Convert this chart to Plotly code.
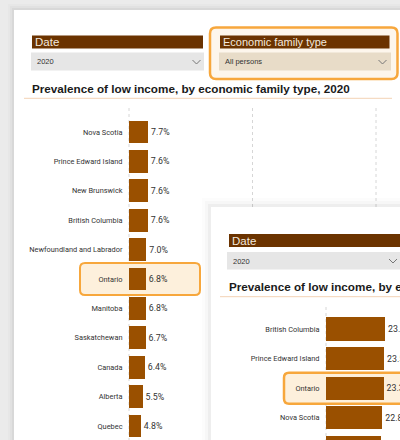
import plotly.graph_objects as go

# ---------------- data ----------------
regions_1 = ["Nova Scotia", "Prince Edward Island", "New Brunswick", "British Columbia",
             "Newfoundland and Labrador", "Ontario", "Manitoba", "Saskatchewan",
             "Canada", "Alberta", "Quebec"]
values_1 = [7.7, 7.6, 7.6, 7.6, 7.0, 6.8, 6.8, 6.7, 6.4, 5.5, 4.8]

regions_2 = ["British Columbia", "Prince Edward Island", "Ontario", "Nova Scotia", "New Brunswick"]
values_2 = [23.9, 23.5, 23.3, 22.8, 22.3]

grid_ticks = [0, 0.5, 1.0]
title_text = "Prevalence of low income, by economic family type, 2020"
date_value = "2020"
family_value = "All persons"
highlight = "Ontario"

# ---------------- geometry helpers (pixel -> axis coords) ----------------
W, H = 400, 440
P1 = dict(left=14, top=10)
P2 = dict(left=211, top=207)
ZERO1, ZERO2 = 129, 326        # pixel x of value 0
UNIT = 247.0                   # pixels per 1.0 (100 %)
ROW1, ROW2 = 29.4, 29.6
FIRST1, FIRST2 = 132, 329      # pixel y of first category


def X1(px): return (px - ZERO1) / UNIT
def Y1(py): return (py - FIRST1) / ROW1
def X2(px): return (px - ZERO2) / UNIT
def Y2(py): return (py - FIRST2) / ROW2


BAR = "#9a5000"
HDR = "#6b3300"
ORANGE = "#f7a73c"
LABEL_FONT = "Roboto, DejaVu Sans Condensed"

shapes = []
annotations = []


def rect(x0, y0, x1, y1, fx, fy, ref, fill, line=None, lw=0, opacity=1):
    shapes.append(dict(type="rect", xref=ref[0], yref=ref[1],
                       x0=fx(x0), x1=fx(x1), y0=fy(y0), y1=fy(y1),
                       fillcolor=fill, opacity=opacity,
                       line=dict(color=line or "rgba(0,0,0,0)", width=lw), layer="below"))


def rrect(x0, y0, x1, y1, r, fx, fy, ref, fill, line, lw):
    p = (f"M {fx(x0 + r)},{fy(y0)} L {fx(x1 - r)},{fy(y0)} Q {fx(x1)},{fy(y0)} {fx(x1)},{fy(y0 + r)} "
         f"L {fx(x1)},{fy(y1 - r)} Q {fx(x1)},{fy(y1)} {fx(x1 - r)},{fy(y1)} "
         f"L {fx(x0 + r)},{fy(y1)} Q {fx(x0)},{fy(y1)} {fx(x0)},{fy(y1 - r)} "
         f"L {fx(x0)},{fy(y0 + r)} Q {fx(x0)},{fy(y0)} {fx(x0 + r)},{fy(y0)} Z")
    shapes.append(dict(type="path", xref=ref[0], yref=ref[1], path=p, fillcolor=fill,
                       line=dict(color=line, width=lw), layer="below"))


def line(x0, y0, x1, y1, fx, fy, ref, color, width=1, dash="solid"):
    shapes.append(dict(type="line", xref=ref[0], yref=ref[1],
                       x0=fx(x0), x1=fx(x1), y0=fy(y0), y1=fy(y1),
                       line=dict(color=color, width=width, dash=dash), layer="below"))


def chevron(cx, cy, fx, fy, ref):
    p = f"M {fx(cx - 4)},{fy(cy - 2)} L {fx(cx)},{fy(cy + 2)} L {fx(cx + 4)},{fy(cy - 2)}"
    shapes.append(dict(type="path", xref=ref[0], yref=ref[1], path=p,
                       line=dict(color="#777777", width=1), layer="below"))


def text(px, py, s, size, color, bold=False, anchor="left", family="Liberation Sans, Arial"):
    annotations.append(dict(xref="paper", yref="paper", x=px / W, y=1 - py / H,
                            text=f"<b>{s}</b>" if bold else s, showarrow=False,
                            xanchor=anchor, yanchor="middle",
                            font=dict(size=size, color=color, family=family)))


# ---------------- panel 1 outer shadow on the grey page ----------------
for k, a in [(6, 0.015), (4, 0.025), (2, 0.04)]:
    x0, y0 = (P1["left"] - k) / W, 1 - (P1["top"] - k) / H
    xe, ye = P1["left"] / W, 1 - P1["top"] / H
    p = f"M {x0},0 L {x0},{y0} L 1,{y0} L 1,{ye} L {xe},{ye} L {xe},0 Z"
    shapes.append(dict(type="path", xref="paper", yref="paper", path=p,
                       fillcolor=f"rgba(0,0,0,{a})", line=dict(width=0), layer="below"))

R1 = ("x", "y")
R2 = ("x2", "y2")

# ---------------- panel 1 decorations ----------------
rect(32, 35.5, 203, 48.5, X1, Y1, R1, HDR)
rect(31, 52.5, 204, 70.5, X1, Y1, R1, "#e6e6e6")
chevron(196.5, 62, X1, Y1, R1)
rrect(210, 27.5, 397.5, 79, 6, X1, Y1, R1, "#fdf6ec", ORANGE, 2.5)
rect(220, 35.5, 389.5, 48.5, X1, Y1, R1, HDR)
rect(219, 52.5, 391, 70.5, X1, Y1, R1, "#e8dcc8")
chevron(382.5, 62, X1, Y1, R1)
line(24, 98.3, 392, 98.3, X1, Y1, R1, "#f3d2b4", 1)
for t in grid_ticks:
    line(ZERO1 + t * UNIT, 108, ZERO1 + t * UNIT, 440, X1, Y1, R1, "#d6d6d6", 1, "dot")
hi1 = regions_1.index(highlight)
rrect(80, FIRST1 + hi1 * ROW1 - 16, 200, FIRST1 + hi1 * ROW1 + 16, 5, X1, Y1, R1,
      "#fdf0dc", ORANGE, 2)

# panel 2 shadow cast on panel 1
for k, a in [(9, 0.012), (6, 0.02), (3, 0.035)]:
    rect(P2["left"] - k, P2["top"] - k, 410, 450, X1, Y1, R1, f"rgba(0,0,0,{a})")

# ---------------- panel 2 decorations ----------------
rect(229, 234, 410, 247, X2, Y2, R2, HDR)
rect(227, 252, 410, 269.5, X2, Y2, R2, "#e6e6e6")
chevron(393, 261, X2, Y2, R2)
line(220, 296.7, 410, 296.7, X2, Y2, R2, "#f3d2b4", 1)
for t in grid_ticks:
    line(ZERO2 + t * UNIT, 307, ZERO2 + t * UNIT, 440, X2, Y2, R2, "#d6d6d6", 1, "dot")
hi2 = regions_2.index(highlight)
rrect(284, FIRST2 + hi2 * ROW2 - 15.5, 420, FIRST2 + hi2 * ROW2 + 15.5, 5, X2, Y2, R2,
      "#fdf0dc", ORANGE, 2.5)

# ---------------- texts ----------------
text(33, 42, "Date", 11.5, "#f3e9df")
text(221, 42, "Economic family type", 11, "#f3e9df")
text(35, 62, date_value, 7.5, "#333333")
text(223, 62, family_value, 7.5, "#333333")
text(30, 88.5, title_text, 11.7, "#1a1a1a", bold=True)
text(230, 240.5, "Date", 11.5, "#f3e9df")
text(231, 261, date_value, 7.5, "#333333")
text(227, 286, title_text, 11.7, "#1a1a1a", bold=True)

# ---------------- bars ----------------
fig = go.Figure()
fig.add_trace(go.Bar(
    x=[v / 100 for v in values_1], y=regions_1, orientation="h",
    marker=dict(color=BAR, line=dict(width=0)), width=0.78,
    text=[f"{v:.1f}%" for v in values_1], textposition="outside",
    textfont=dict(size=8.8, color="#333333", family=LABEL_FONT),
    constraintext="none", cliponaxis=False, hoverinfo="skip",
    xaxis="x", yaxis="y"))
fig.add_trace(go.Bar(
    x=[v / 100 for v in values_2], y=regions_2, orientation="h",
    marker=dict(color=BAR, line=dict(width=0)), width=0.78,
    text=[f"{v:.1f}%" for v in values_2], textposition="outside",
    textfont=dict(size=8.8, color="#333333", family=LABEL_FONT),
    constraintext="none", cliponaxis=False, hoverinfo="skip",
    xaxis="x2", yaxis="y2"))

axis_hidden = dict(showgrid=False, zeroline=False, showticklabels=False, showline=False,
                   ticks="", fixedrange=True)
tickfont = dict(size=7.4, color="#333333", family=LABEL_FONT)

fig.update_layout(
    width=W, height=H, margin=dict(l=0, r=0, t=0, b=0),
    paper_bgcolor="#ebebeb", plot_bgcolor="#ffffff", showlegend=False,
    bargap=0,
    xaxis=dict(domain=[P1["left"] / W, 1], range=[X1(P1["left"]), X1(W)], **axis_hidden),
    yaxis=dict(domain=[0, 1 - P1["top"] / H], type="category",
               range=[Y1(H), Y1(P1["top"])], anchor="free", position=ZERO1 / W,
               showgrid=False, zeroline=False, showline=False, ticks="outside",
               ticklen=5, tickcolor="rgba(0,0,0,0)", tickfont=tickfont, fixedrange=True),
    xaxis2=dict(domain=[P2["left"] / W, 1], range=[X2(P2["left"]), X2(W)], anchor="y2",
                **axis_hidden),
    yaxis2=dict(domain=[0, 1 - P2["top"] / H], type="category",
                range=[Y2(H), Y2(P2["top"])], anchor="free", position=ZERO2 / W,
                showgrid=False, zeroline=False, showline=False, ticks="outside",
                ticklen=5, tickcolor="rgba(0,0,0,0)", tickfont=tickfont, fixedrange=True),
    shapes=shapes, annotations=annotations,
)

fig.write_html("out.html", config={"displayModeBar": False, "staticPlot": True},
               post_script="document.body.style.margin='0';document.body.style.overflow='hidden';")
